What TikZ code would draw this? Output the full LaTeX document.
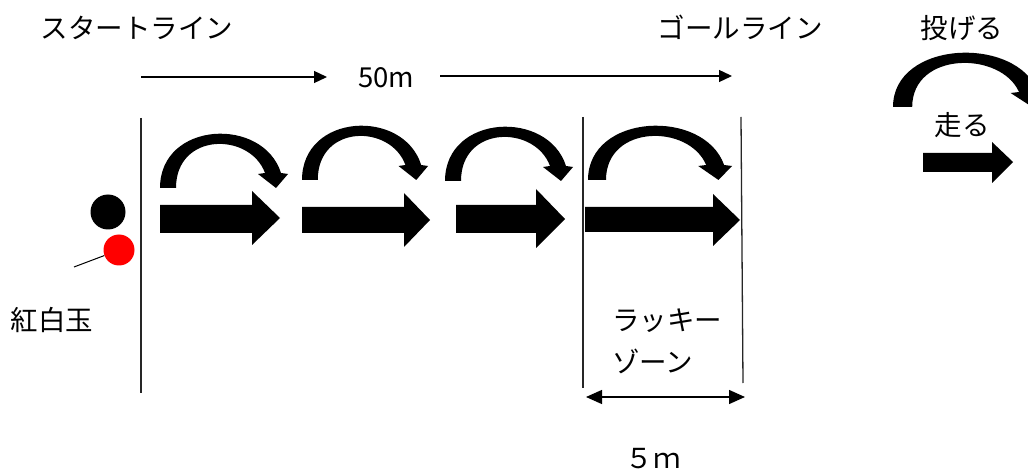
\documentclass[tikz,border=0pt]{standalone}
\usepackage{fontspec}
\setmainfont{Noto Sans CJK JP}
\usetikzlibrary{arrows.meta}
\tikzset{
  lbl/.style={font=\fontsize{27.5}{31}\selectfont, inner sep=0pt, text height=24pt, text depth=3.5pt},
  thinline/.style={line width=1.3pt, black!85},
  toparrow/.style={line width=1.3pt, -{Triangle[length=13pt,width=12pt]}},
  dimarrow/.style={line width=1.3pt, {Triangle[length=16pt,width=14pt]}-{Triangle[length=16pt,width=14pt]}},
  ball/.style={circle, inner sep=0pt},
  curvarrow/.pic={
    \fill[black] (0,0) .. controls (0,-67) and (103,-72) .. (121,-15)
      -- (128,-14) -- (116,0) -- (98,-14) -- (105,-15)
      .. controls (90,-56) and (16,-56) .. (16,0) -- cycle;
  }
}
\begin{document}
\begin{tikzpicture}[x=1pt,y=-1pt]
\useasboundingbox (0,0) rectangle (1028,470);
\fill[white] (0,0) rectangle (1028,470);

% titles
\node[lbl] (start) at (137,28) {スタートライン};
\node[lbl] (goal) at (740,28) {ゴールライン};
\node[lbl] (throw) at (962,28) {投げる};
\node[lbl] (run) at (962,125) {走る};
\node[lbl] (d50) at (386,77) {50m};

% 50m arrows
\coordinate (a1s) at (141,77);
\coordinate (a1e) at (327,77);
\coordinate (a2s) at (440,76);
\coordinate (a2e) at (732,76);
\draw[toparrow] (a1s) -- (a1e);
\draw[toparrow] (a2s) -- (a2e);

% vertical lines
\coordinate (s1) at (141,118);
\coordinate (s2) at (141,393);
\coordinate (l1) at (583,117);
\coordinate (l2) at (583,388);
\coordinate (r1) at (741,117);
\coordinate (r2) at (743,383);
\draw[thinline] (s1) -- (s2);
\draw[thinline] (l1) -- (l2);
\draw[thinline] (r1) -- (r2);

% curved (throw) arrows
\pic at (160,188) {curvarrow};
\pic[xscale=0.985] at (302,180) {curvarrow};
\pic at (445,181) {curvarrow};
\pic[xscale=1.125] at (588,180) {curvarrow};
\pic[xscale=1.2] at (893,107) {curvarrow};

% block (run) arrows
\fill (160,205) -- (252,205) -- (252,191) -- (280,218) -- (252,245) -- (252,233) -- (160,233) -- cycle;
\fill (302,207) -- (404,207) -- (404,193) -- (430,220) -- (404,247) -- (404,233) -- (302,233) -- cycle;
\fill (456,205) -- (536,205) -- (536,189) -- (565,219) -- (536,248) -- (536,233) -- (456,233) -- cycle;
\fill (585,207) -- (713,207) -- (713,194) -- (740,220) -- (713,246) -- (713,232) -- (585,232) -- cycle;
\fill (923,153) -- (992,153) -- (992,142) -- (1013,162) -- (992,183) -- (992,172) -- (923,172) -- cycle;

% balls
\node[ball, fill=black, minimum size=35pt] (kb) at (108,212) {};
\node[ball, fill=red, minimum size=31pt] (rb) at (119,250) {};
\coordinate (rl) at (74,267);
\draw[line width=1pt] (rl) -- (rb);
\node[lbl] (kohaku) at (52,320) {紅白玉};

% lucky zone
\node[lbl, anchor=west] (lucky1) at (612,320) {ラッキー};
\node[lbl, anchor=west] (lucky2) at (612,362) {ゾーン};
\coordinate (d1) at (586,397);
\coordinate (d2) at (745,397);
\draw[dimarrow] (d1) -- (d2);
\node[lbl] (d5) at (653,458) {５ｍ};
\end{tikzpicture}
\end{document}
